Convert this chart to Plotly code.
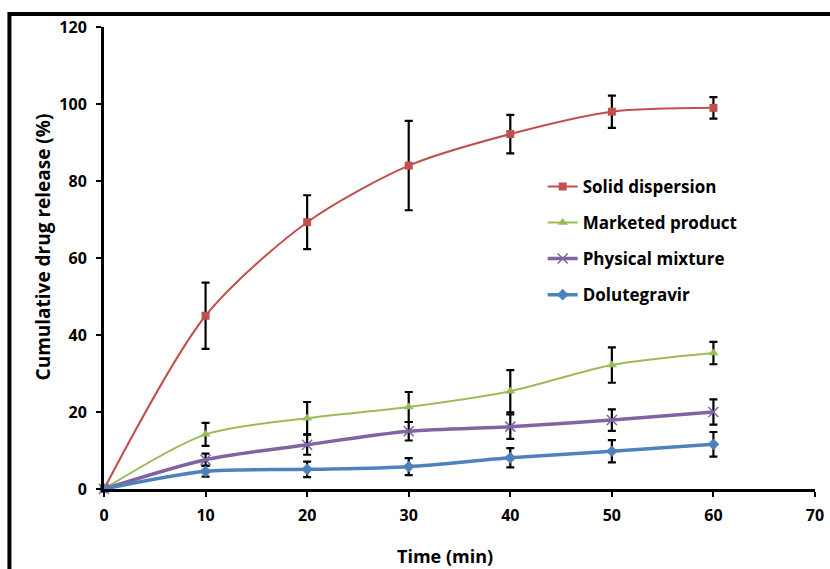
import plotly.graph_objects as go

time_min = [0, 10, 20, 30, 40, 50, 60]

solid_dispersion = [0, 45.0, 69.3, 84.0, 92.2, 98.0, 99.0]
solid_dispersion_err = [0, 8.6, 7.0, 11.6, 5.0, 4.2, 2.8]

marketed_product = [0, 14.2, 18.4, 21.3, 25.4, 32.2, 35.3]
marketed_product_err = [0, 3.0, 4.2, 3.9, 5.5, 4.6, 2.9]

physical_mixture = [0, 7.6, 11.5, 15.0, 16.2, 17.9, 20.0]
physical_mixture_err = [0, 1.6, 2.6, 2.4, 3.2, 2.8, 3.3]

dolutegravir = [0, 4.6, 5.1, 5.8, 8.1, 9.8, 11.6]
dolutegravir_err = [0, 1.4, 2.0, 2.2, 2.5, 2.9, 3.2]

x_ticks = [0, 10, 20, 30, 40, 50, 60, 70]
y_ticks = [0, 20, 40, 60, 80, 100, 120]

FONT = "Open Sans"

series = [
    ("Solid dispersion", solid_dispersion, solid_dispersion_err, "#C0504D", "square", 8, 2),
    ("Marketed product", marketed_product, marketed_product_err, "#9BBB59", "triangle-up", 9, 2),
    ("Physical mixture", physical_mixture, physical_mixture_err, "#8064A2", "x-thin", 10, 3.5),
    ("Dolutegravir", dolutegravir, dolutegravir_err, "#4F81BD", "diamond", 9, 3.5),
]

fig = go.Figure()
for i, (name, y, err, color, sym, msize, lw) in enumerate(series):
    fig.add_trace(go.Scatter(
        x=time_min, y=y, name=name, mode="lines+markers",
        line=dict(color=color, width=lw, shape="spline", smoothing=0.8),
        marker=dict(symbol=sym, size=msize, color=color,
                    line=dict(color=color, width=1.5 if sym == "x-thin" else 0)),
        error_y=dict(type="data", array=err, visible=True, color="black",
                     thickness=2.2, width=4),
        legendgroup=f"g{i}", cliponaxis=False,
    ))

axis_common = dict(
    showline=True, linecolor="black", linewidth=3,
    ticks="outside", tickcolor="black", tickwidth=2, ticklen=5,
    showgrid=False, zeroline=False, automargin=False,
    tickfont=dict(family=FONT, size=16, color="black", weight="bold"),
)

title_font = dict(family=FONT, size=18, color="black", weight="bold")

fig.update_layout(
    width=830, height=569,
    margin=dict(l=104, r=15, t=27, b=80),
    paper_bgcolor="white", plot_bgcolor="white",
    xaxis=dict(range=[0, 70], tickvals=x_ticks, ticklabelstandoff=5, **axis_common),
    yaxis=dict(range=[0, 120], tickvals=y_ticks, ticklabelstandoff=6, **axis_common),
    legend=dict(x=0.617, y=0.693, xanchor="left", yanchor="top",
                font=dict(family=FONT, size=17, color="black", weight="bold"),
                bgcolor="rgba(0,0,0,0)", tracegroupgap=11, itemwidth=30),
    annotations=[
        dict(text="Time (min)", xref="paper", yref="paper", x=0.48, y=-0.144,
             xanchor="center", yanchor="middle", showarrow=False, font=title_font),
        dict(text="Cumulative drug release (%)", xref="paper", yref="paper",
             x=-0.0858, y=0.525, xanchor="center", yanchor="middle",
             textangle=-90, showarrow=False,
             font=dict(family=FONT, size=19, color="black", weight="bold")),
    ],
    shapes=[dict(type="rect", xref="paper", yref="paper",
                 x0=-0.133, y0=-0.4, x1=1.2, y1=1.028,
                 line=dict(color="black", width=4), layer="below")],
)

fig.write_html("out.html")
